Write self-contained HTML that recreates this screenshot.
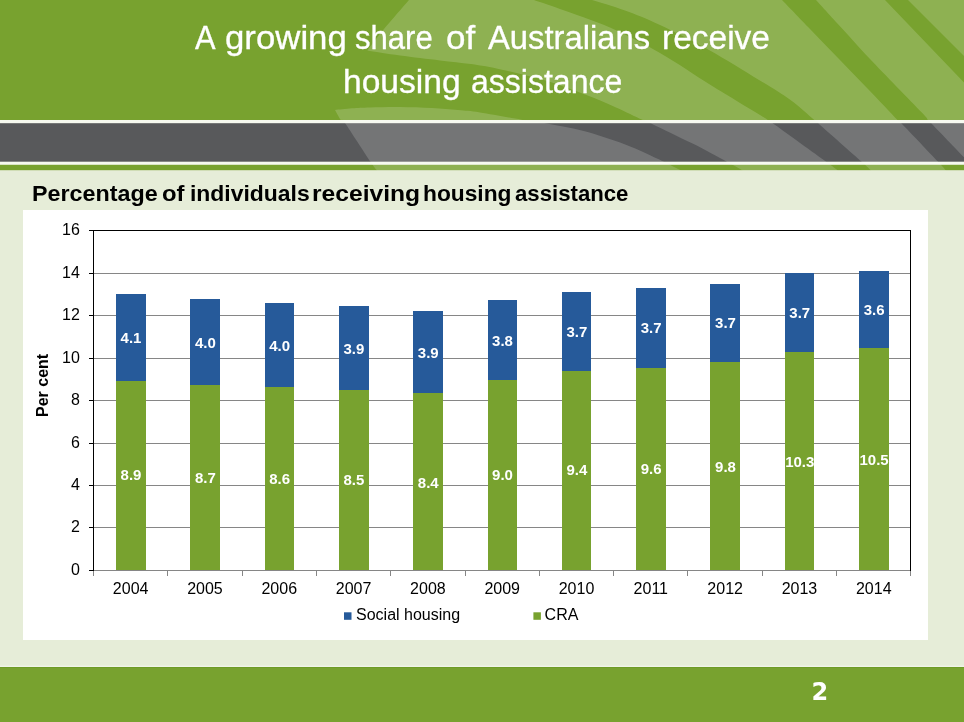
<!DOCTYPE html>
<html lang="en"><head><meta charset="utf-8"><title>A growing share of Australians receive housing assistance</title>
<style>
html,body{margin:0;padding:0}
body{width:964px;height:722px;overflow:hidden;background:#E6EDD8;position:relative;font-family:"Liberation Sans",sans-serif}
#fronds{position:absolute;left:0;top:0}
#title{position:absolute;left:0;top:0;color:#fff;font-size:33.1px;line-height:44px;white-space:nowrap;-webkit-text-stroke:0.3px #fff}
#title span{display:block;position:absolute;transform-origin:0 0;white-space:nowrap}

#sub{position:absolute;left:0;top:0;font-weight:bold;font-size:21.8px;line-height:26px;color:#000;white-space:nowrap}
#sub span{display:block;position:absolute;transform-origin:0 0;white-space:nowrap}
#chartbox{position:absolute;left:22.8px;top:210px;width:905.6px;height:429.7px;background:#fff}
#chart{position:absolute;left:0;top:0}
#foot{position:absolute;left:0;top:667px;width:964px;height:55px;background:#78A22F;border-top:1px solid #6E9B26;box-shadow:0 -1px 0 #F0F4E7,0 -2px 0 #EAF0DE}
#pg{position:absolute;left:811.6px;top:677px;color:#fff;font:bold 24px "DejaVu Sans","Liberation Sans",sans-serif;line-height:30px}
</style></head><body>
<svg id="fronds" width="964" height="172" viewBox="0 0 964 172"><rect x="0" y="0" width="964" height="120.5" fill="#78A22F"/><rect x="0" y="123" width="964" height="39.5" fill="#58595B"/><rect x="0" y="120" width="964" height="3.2" fill="#F6F9EF"/><rect x="0" y="161.7" width="964" height="3.1" fill="#F6F9EF"/><rect x="0" y="164.8" width="964" height="5.4" fill="#78A22F"/><g fill="#fff" fill-opacity="0.17"><path d="M335.0,110.0 C337.8,109.7 346.2,108.7 352.0,108.3 C357.8,107.9 362.0,107.6 370.0,107.4 C378.0,107.2 389.7,106.9 400.0,107.0 C410.3,107.1 422.3,107.5 432.0,108.0 C441.7,108.5 450.0,109.3 458.0,110.0 C466.0,110.7 469.4,110.8 480.0,112.4 C490.6,114.0 509.9,117.8 521.5,119.7 C533.1,121.6 539.1,122.0 549.5,123.9 C559.9,125.8 571.1,127.6 583.7,131.1 C596.3,134.5 612.1,139.6 625.2,144.6 C638.4,149.6 653.3,156.9 662.6,161.2 C671.9,165.5 677.9,168.9 681.0,170.5 L377,170.5 L377.0,170.5 C375.9,169.1 375.8,169.6 370.5,161.8 C365.2,154.0 350.2,130.5 345.3,123.5 C340.4,116.5 342.5,122.2 340.8,120.0 C339.1,117.8 336.0,111.7 335.0,110.0 Z"/><path d="M409.0,0.0 C404.6,5.2 389.2,22.7 382.3,31.1 C375.4,39.5 369.9,47.3 367.4,50.5 L367.4,50.5 C372.8,51.3 387.9,53.9 400.0,55.5 C412.1,57.1 428.2,59.0 440.0,60.4 C451.8,61.8 460.7,62.5 471.0,64.1 C481.3,65.6 489.9,67.0 502.0,69.7 C514.1,72.4 529.9,75.9 543.7,80.1 C557.5,84.2 573.0,90.0 585.0,94.6 C597.0,99.2 606.5,103.3 616.0,107.5 C625.5,111.7 635.6,116.8 641.8,119.6 C648.0,122.4 644.5,120.4 653.0,124.4 C661.5,128.4 680.3,137.4 692.6,143.6 C704.9,149.8 718.3,157.2 726.7,161.7 C735.1,166.2 740.3,169.0 743.0,170.5 L838,170.5 L838.0,170.5 C836.0,169.0 836.6,169.3 826.1,161.7 C815.6,154.1 786.2,132.8 775.2,125.0 C764.2,117.2 766.5,119.1 760.0,115.0 C753.5,110.9 744.5,105.7 736.0,100.5 C727.5,95.3 721.7,91.9 709.0,84.0 C696.3,76.1 676.5,62.4 660.0,53.0 C643.5,43.6 626.7,34.8 610.0,27.5 C593.3,20.2 572.7,13.6 560.0,9.0 C547.3,4.4 538.3,1.5 534.0,0.0 Z"/><path d="M592.0,0.0 C597.5,1.8 613.7,6.3 625.0,10.5 C636.3,14.7 646.0,18.4 660.0,25.0 C674.0,31.6 692.5,40.8 709.0,50.0 C725.5,59.2 745.4,71.7 759.0,80.0 C772.6,88.3 781.4,93.4 790.5,100.0 C799.6,106.6 808.9,115.5 813.7,119.6 C818.5,123.7 811.5,117.4 819.5,124.4 C827.5,131.4 853.1,154.0 861.7,161.7 C870.3,169.4 869.5,169.0 871.0,170.5 L946,170.5 L946.0,170.5 C944.7,169.0 945.4,169.4 938.1,161.7 C930.9,154.0 909.3,131.3 902.5,124.4 C895.7,117.5 903.2,125.9 897.5,120.0 C891.8,114.1 877.8,99.2 868.0,89.0 C858.2,78.8 848.7,69.0 839.0,59.0 C829.3,49.0 819.5,38.8 810.0,29.0 C800.5,19.2 786.7,4.8 782.0,0.0 Z"/><path d="M816.0,0.0 C820.5,4.9 834.0,19.7 843.0,29.5 C852.0,39.3 857.0,45.2 870.0,59.0 C883.0,72.8 911.7,101.9 921.3,112.0 C930.9,122.1 925.6,117.5 927.5,119.6 C929.4,121.7 926.3,118.1 932.4,124.4 C938.5,130.7 956.6,149.5 964.0,157.2 C971.4,164.9 974.8,168.3 977.0,170.5 L990,175 L990,110 L964,82.5 L885,0 Z"/><path d="M908,0 L964,56 L964,0 Z"/></g></svg>
<div id="title"><span style="left:194.98px;top:15.70px;transform:scaleX(0.9331)">A</span> <span style="left:224.53px;top:15.70px;transform:scaleX(1.0515)">growing</span> <span style="left:354.75px;top:15.70px;transform:scaleX(0.9391)">share</span> <span style="left:445.78px;top:15.70px;transform:scaleX(1.0583)">of</span> <span style="left:488.05px;top:15.70px;transform:scaleX(0.9903)">Australians</span> <span style="left:661.96px;top:15.70px;transform:scaleX(1.0124)">receive</span> <span style="left:342.75px;top:60.20px;transform:scaleX(1.0154)">housing</span> <span style="left:470.86px;top:60.20px;transform:scaleX(0.9679)">assistance</span> </div>
<div id="sub"><span style="left:32.36px;top:181.20px;transform:scaleX(1.0696)">Percentage</span> <span style="left:162.02px;top:181.20px;transform:scaleX(1.0923)">of</span> <span style="left:189.70px;top:181.20px;transform:scaleX(1.0513)">individuals</span> <span style="left:311.89px;top:181.20px;transform:scaleX(1.1295)">receiving</span> <span style="left:422.76px;top:181.20px;transform:scaleX(1.0443)">housing</span> <span style="left:514.77px;top:181.20px;transform:scaleX(1.0174)">assistance</span> </div>
<div id="chartbox"></div>
<svg id="chart" width="964" height="722" viewBox="0 0 964 722" font-family="Liberation Sans, sans-serif">
<g fill="#868686">
<rect x="93" y="570" width="818" height="1"/>
<rect x="93" y="527" width="818" height="1"/>
<rect x="93" y="485" width="818" height="1"/>
<rect x="93" y="443" width="818" height="1"/>
<rect x="93" y="400" width="818" height="1"/>
<rect x="93" y="358" width="818" height="1"/>
<rect x="93" y="315" width="818" height="1"/>
<rect x="93" y="273" width="818" height="1"/>
<rect x="93" y="570" width="1" height="6"/>
<rect x="167" y="570" width="1" height="6"/>
<rect x="242" y="570" width="1" height="6"/>
<rect x="316" y="570" width="1" height="6"/>
<rect x="390" y="570" width="1" height="6"/>
<rect x="465" y="570" width="1" height="6"/>
<rect x="539" y="570" width="1" height="6"/>
<rect x="613" y="570" width="1" height="6"/>
<rect x="687" y="570" width="1" height="6"/>
<rect x="762" y="570" width="1" height="6"/>
<rect x="836" y="570" width="1" height="6"/>
<rect x="910" y="570" width="1" height="6"/>
</g>
<g>
<rect x="116" y="294" width="30" height="87" fill="#265A9A"/>
<rect x="116" y="381" width="30" height="189" fill="#78A22F"/>
<rect x="190" y="299" width="30" height="86" fill="#265A9A"/>
<rect x="190" y="385" width="30" height="185" fill="#78A22F"/>
<rect x="265" y="303" width="29" height="84" fill="#265A9A"/>
<rect x="265" y="387" width="29" height="183" fill="#78A22F"/>
<rect x="339" y="306" width="30" height="84" fill="#265A9A"/>
<rect x="339" y="390" width="30" height="180" fill="#78A22F"/>
<rect x="413" y="311" width="30" height="82" fill="#265A9A"/>
<rect x="413" y="393" width="30" height="177" fill="#78A22F"/>
<rect x="488" y="300" width="29" height="80" fill="#265A9A"/>
<rect x="488" y="380" width="29" height="190" fill="#78A22F"/>
<rect x="562" y="292" width="29" height="79" fill="#265A9A"/>
<rect x="562" y="371" width="29" height="199" fill="#78A22F"/>
<rect x="636" y="288" width="30" height="80" fill="#265A9A"/>
<rect x="636" y="368" width="30" height="202" fill="#78A22F"/>
<rect x="710" y="284" width="30" height="78" fill="#265A9A"/>
<rect x="710" y="362" width="30" height="208" fill="#78A22F"/>
<rect x="785" y="273" width="29" height="79" fill="#265A9A"/>
<rect x="785" y="352" width="29" height="218" fill="#78A22F"/>
<rect x="859" y="271" width="30" height="77" fill="#265A9A"/>
<rect x="859" y="348" width="30" height="222" fill="#78A22F"/>
</g>
<g fill="#000">
<rect x="93" y="230" width="1" height="341"/>
<rect x="93" y="230" width="818" height="1"/>
<rect x="910" y="230" width="1" height="341"/>
<rect x="89" y="570" width="5" height="1"/>
<rect x="89" y="527" width="5" height="1"/>
<rect x="89" y="485" width="5" height="1"/>
<rect x="89" y="443" width="5" height="1"/>
<rect x="89" y="400" width="5" height="1"/>
<rect x="89" y="358" width="5" height="1"/>
<rect x="89" y="315" width="5" height="1"/>
<rect x="89" y="273" width="5" height="1"/>
<rect x="89" y="230" width="5" height="1"/>
</g>
<g font-size="16" fill="#000" text-anchor="end">
<text x="79.8" y="574.80">0</text>
<text x="79.8" y="531.80">2</text>
<text x="79.8" y="489.80">4</text>
<text x="79.8" y="447.80">6</text>
<text x="79.8" y="404.80">8</text>
<text x="79.8" y="362.80">10</text>
<text x="79.8" y="319.80">12</text>
<text x="79.8" y="277.80">14</text>
<text x="79.8" y="234.80">16</text>
</g>
<g font-size="16" fill="#000" text-anchor="middle">
<text x="130.65" y="594.1">2004</text>
<text x="204.96" y="594.1">2005</text>
<text x="279.27" y="594.1">2006</text>
<text x="353.58" y="594.1">2007</text>
<text x="427.89" y="594.1">2008</text>
<text x="502.20" y="594.1">2009</text>
<text x="576.51" y="594.1">2010</text>
<text x="650.82" y="594.1">2011</text>
<text x="725.13" y="594.1">2012</text>
<text x="799.44" y="594.1">2013</text>
<text x="873.75" y="594.1">2014</text>
</g>
<g font-size="15" font-weight="bold" fill="#fff" text-anchor="middle">
<text x="131.00" y="342.6">4.1</text>
<text x="131.00" y="480.3">8.9</text>
<text x="205.31" y="347.6">4.0</text>
<text x="205.31" y="482.6">8.7</text>
<text x="279.62" y="350.5">4.0</text>
<text x="279.62" y="484.3">8.6</text>
<text x="353.93" y="353.5">3.9</text>
<text x="353.93" y="485.3">8.5</text>
<text x="428.24" y="357.5">3.9</text>
<text x="428.24" y="487.9">8.4</text>
<text x="502.55" y="345.8">3.8</text>
<text x="502.55" y="480.3">9.0</text>
<text x="576.86" y="336.5">3.7</text>
<text x="576.86" y="475.3">9.4</text>
<text x="651.17" y="333.3">3.7</text>
<text x="651.17" y="474.3">9.6</text>
<text x="725.48" y="328.2">3.7</text>
<text x="725.48" y="471.6">9.8</text>
<text x="799.79" y="317.6">3.7</text>
<text x="799.79" y="466.6">10.3</text>
<text x="874.10" y="314.9">3.6</text>
<text x="874.10" y="465.3">10.5</text>
</g>
<text transform="translate(48.2,385.4) rotate(-90)" font-size="16" font-weight="bold" text-anchor="middle" fill="#000">Per cent</text>
<rect x="344" y="612.3" width="7.5" height="7.5" fill="#265A9A"/>
<text x="356" y="619.7" font-size="16" fill="#000">Social housing</text>
<rect x="533.4" y="612.3" width="7.5" height="7.5" fill="#78A22F"/>
<text x="544.6" y="619.7" font-size="16" fill="#000">CRA</text>
</svg>
<div id="foot"></div><div id="pg">2</div>
</body></html>
